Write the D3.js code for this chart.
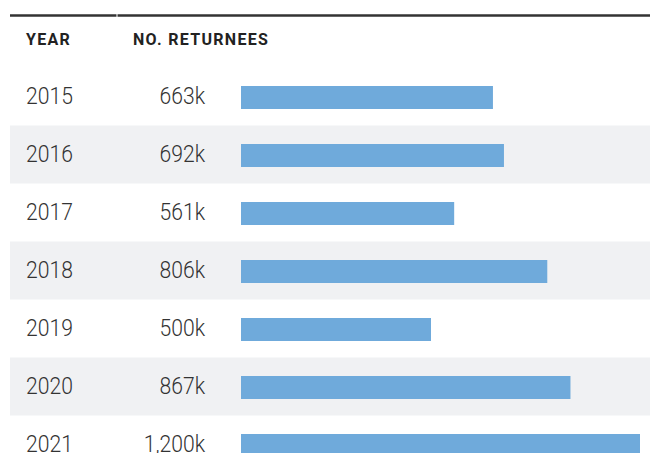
<!DOCTYPE html>
<html>
<head>
<meta charset="utf-8">
<script src="https://cdn.jsdelivr.net/npm/d3@7"></script>
<style>
    body { margin: 0; background: #fff; }
    svg { display: block; }
</style>
</head>
<body>
<div id="chart"></div>
<script>
// data
const years = ["2015", "2016", "2017", "2018", "2019", "2020", "2021"];
const returnees = [663, 692, 561, 806, 500, 867, 1200]; // thousands
const headers = ["YEAR", "NO. RETURNEES"];

const width = 650, height = 453;

let svg = d3.select("#chart")
    .append("svg")
    .attr("width", width)
    .attr("height", height);

// row bands
let y = d3.scaleBand()
    .domain(years)
    .range([67.5, 67.5 + 58 * years.length])
    .paddingInner(0);

// bars stop at the column edge, so the scale is clamped
let x = d3.scaleLinear()
    .domain([0, 1050])
    .range([241, 640])
    .clamp(true);

let rows = years.map((yr, i) => ({year: yr, value: returnees[i], i: i}));

// striped rows
svg.append("g")
    .selectAll("rect")
    .data(rows.filter(d => d.i % 2 === 1))
    .enter()
    .append("rect")
    .attr("x", 10)
    .attr("y", d => y(d.year))
    .attr("width", width - 10)
    .attr("height", y.bandwidth())
    .attr("fill", "#f0f1f3");

// top rule, split between the two header cells
svg.append("line")
    .attr("x1", 10).attr("x2", 116.5)
    .attr("y1", 15.5).attr("y2", 15.5)
    .attr("stroke", "#333").attr("stroke-width", 2.5);
svg.append("line")
    .attr("x1", 117.5).attr("x2", width)
    .attr("y1", 15.5).attr("y2", 15.5)
    .attr("stroke", "#333").attr("stroke-width", 2.5);

// header
svg.append("g")
    .selectAll("text")
    .data(headers)
    .enter()
    .append("text")
    .attr("x", (d, i) => i === 0 ? 26 : 133)
    .attr("y", 45)
    .attr("fill", "#222")
    .style("font-family", "Roboto, sans-serif")
    .style("font-weight", 700)
    .style("font-size", "16px")
    .style("letter-spacing", "1.3px")
    .text(d => d);

// narrow light numbers
function cellText(sel, xPos, anchor, fn) {
    sel.append("text")
        .attr("transform", d => "translate(" + xPos + "," + (y(d.year) + y.bandwidth() / 2 + 7) + ") scale(0.88,1)")
        .attr("text-anchor", anchor)
        .attr("fill", "#333")
        .style("font-family", "Roboto, sans-serif")
        .style("font-weight", 300)
        .style("font-size", "24px")
        .text(fn);
}

let row = svg.append("g")
    .selectAll("g")
    .data(rows)
    .enter()
    .append("g");

cellText(row, 26, "start", d => d.year);
cellText(row, 205, "end", d => d3.format(",")(d.value) + "k");

row.append("rect")
    .attr("x", x(0))
    .attr("y", d => y(d.year) + y.bandwidth() / 2 - 10.5)
    .attr("width", d => x(d.value) - x(0))
    .attr("height", 23)
    .attr("fill", "#6faadb");
</script>
</body>
</html>
